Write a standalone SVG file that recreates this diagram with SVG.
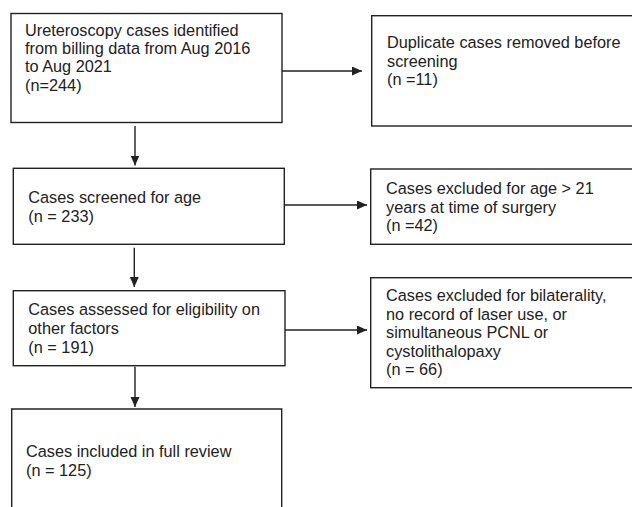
<svg xmlns="http://www.w3.org/2000/svg" width="632" height="507" viewBox="0 0 632 507">
<style>
.box{fill:#fff;stroke:#222;stroke-width:1.4}
.t{font-family:"Liberation Sans",Arial,sans-serif;font-size:16.3px;fill:#222}
.c{stroke:#222;stroke-width:1.4;fill:none}
</style>
<defs>
<marker id="ah" markerUnits="userSpaceOnUse" markerWidth="11" markerHeight="10" refX="10" refY="4.5" orient="auto">
<path d="M0,0 L10,4.5 L0,9 z" fill="#222"/>
</marker>
</defs>
<rect width="632" height="507" fill="#fff"/>
<g id="n1">
<rect class="box" x="11" y="13.5" width="271" height="109"/>
<text class="t" x="25"><tspan x="25" y="35.7">Ureteroscopy cases identified</tspan><tspan x="25" y="54">from billing data from Aug 2016</tspan><tspan x="25" y="72.3">to Aug 2021</tspan><tspan x="25" y="90.7">(n=244)</tspan></text>
</g>
<g id="n2">
<rect class="box" x="371.7" y="15.7" width="280" height="110.3"/>
<text class="t"><tspan x="387" y="48">Duplicate cases removed before</tspan><tspan x="387" y="66.5">screening</tspan><tspan x="387" y="85">(n =11)</tspan></text>
</g>
<g id="n3">
<rect class="box" x="13.3" y="168.3" width="271" height="76"/>
<text class="t"><tspan x="28.3" y="203.3">Cases screened for age</tspan><tspan x="28.3" y="222">(n = 233)</tspan></text>
</g>
<g id="n4">
<rect class="box" x="370.7" y="169" width="280" height="75.3"/>
<text class="t"><tspan x="386" y="194.3">Cases excluded for age &gt; 21</tspan><tspan x="386" y="212.7">years at time of surgery</tspan><tspan x="386" y="231">(n =42)</tspan></text>
</g>
<g id="n5">
<rect class="box" x="13.3" y="290.7" width="271.7" height="75"/>
<text class="t"><tspan x="28.3" y="315">Cases assessed for eligibility on</tspan><tspan x="28.3" y="334">other factors</tspan><tspan x="28.3" y="352.5">(n = 191)</tspan></text>
</g>
<g id="n6">
<rect class="box" x="370.7" y="277.7" width="280" height="110"/>
<text class="t"><tspan x="386" y="301">Cases excluded for bilaterality,</tspan><tspan x="386" y="320">no record of laser use, or</tspan><tspan x="386" y="338.3">simultaneous PCNL or</tspan><tspan x="386" y="356.7">cystolithalopaxy</tspan><tspan x="386" y="375">(n = 66)</tspan></text>
</g>
<g id="n7">
<path class="box" d="M11.7,510 L11.7,409 L281.7,409 L281.7,510"/>
<text class="t"><tspan x="26" y="457.3">Cases included in full review</tspan><tspan x="26" y="476">(n = 125)</tspan></text>
</g>
<g id="connectors">
<line class="c" x1="282" y1="71" x2="362" y2="71" marker-end="url(#ah)"/>
<line class="c" x1="284.3" y1="205" x2="367" y2="205" marker-end="url(#ah)"/>
<line class="c" x1="285" y1="330" x2="367" y2="330" marker-end="url(#ah)"/>
<line class="c" x1="135" y1="126" x2="135" y2="165.5" marker-end="url(#ah)"/>
<line class="c" x1="134.3" y1="247.7" x2="134.3" y2="287" marker-end="url(#ah)"/>
<line class="c" x1="135" y1="366.7" x2="135" y2="407" marker-end="url(#ah)"/>
</g>
</svg>
